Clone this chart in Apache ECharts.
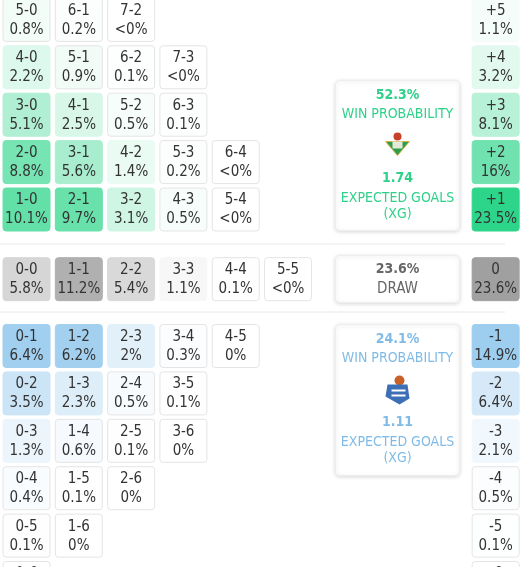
<!DOCTYPE html>
<html>
<head>
<meta charset="utf-8">
<script src="https://cdn.jsdelivr.net/npm/echarts@6/dist/echarts.min.js"></script>
<style>html,body{margin:0;padding:0;background:#fff}#main{width:530px;height:567px}</style>
</head>
<body>
<div id="main"></div>
<script>
// score rows, home wins (margin 5 .. 1)
var homeRows = [
    {margin: 5, labels: ['0.8%', '0.2%', '<0%'], values: [0.8, 0.2, 0]},
    {margin: 4, labels: ['2.2%', '0.9%', '0.1%', '<0%'], values: [2.2, 0.9, 0.1, 0]},
    {margin: 3, labels: ['5.1%', '2.5%', '0.5%', '0.1%'], values: [5.1, 2.5, 0.5, 0.1]},
    {margin: 2, labels: ['8.8%', '5.6%', '1.4%', '0.2%', '<0%'], values: [8.8, 5.6, 1.4, 0.2, 0]},
    {margin: 1, labels: ['10.1%', '9.7%', '3.1%', '0.5%', '<0%'], values: [10.1, 9.7, 3.1, 0.5, 0]}
];
var drawRow = {labels: ['5.8%', '11.2%', '5.4%', '1.1%', '0.1%', '<0%'], values: [5.8, 11.2, 5.4, 1.1, 0.1, 0]};
var awayRows = [
    {margin: 1, labels: ['6.4%', '6.2%', '2%', '0.3%', '0%'], values: [6.4, 6.2, 2, 0.3, 0]},
    {margin: 2, labels: ['3.5%', '2.3%', '0.5%', '0.1%'], values: [3.5, 2.3, 0.5, 0.1]},
    {margin: 3, labels: ['1.3%', '0.6%', '0.1%', '0%'], values: [1.3, 0.6, 0.1, 0]},
    {margin: 4, labels: ['0.4%', '0.1%', '0%'], values: [0.4, 0.1, 0]},
    {margin: 5, labels: ['0.1%', '0%'], values: [0.1, 0]},
    {margin: 6, labels: ['0%'], values: [0]}
];
// goal difference column
var marginNames = ['+5', '+4', '+3', '+2', '+1', '0', '-1', '-2', '-3', '-4', '-5', '-6'];
var marginLabels = ['1.1%', '3.2%', '8.1%', '16%', '23.5%', '23.6%', '14.9%', '6.4%', '2.1%', '0.5%', '0.1%', '0%'];
var marginValues = [1.1, 3.2, 8.1, 16, 23.5, 23.6, 14.9, 6.4, 2.1, 0.5, 0.1, 0];

var GREEN = [45, 213, 138], BLUE = [140, 196, 236], GREY = [153, 153, 153];
function mix(c, t) {
    t = Math.max(0, Math.min(1, t));
    return 'rgb(' + c.map(function (v) { return Math.round(255 + (v - 255) * t); }).join(',') + ')';
}

// rows: y index (inverse axis), x index = column
var cells = [];
homeRows.forEach(function (r) {
    r.values.forEach(function (v, a) {
        cells.push([a, 1 - r.margin, (r.margin + a) + '-' + a, r.labels[a], mix(GREEN, v / 13.5), v]);
    });
});
drawRow.values.forEach(function (v, a) {
    cells.push([a, 1.47, a + '-' + a, drawRow.labels[a], mix(GREY, v / 14.5), v]);
});
awayRows.forEach(function (r) {
    r.values.forEach(function (v, h) {
        cells.push([h, 1.88 + r.margin * 1.0, h + '-' + (r.margin + h), r.labels[h], mix(BLUE, v / 7.8), v]);
    });
});
marginNames.forEach(function (n, i) {
    var y, col;
    if (i < 5) { y = i - 4; col = mix(GREEN, marginValues[i] / 23.5); }
    else if (i === 5) { y = 1.47; col = mix(GREY, 0.93); }
    else { y = 1.88 + (i - 5) * 1.0; col = mix(BLUE, marginValues[i] / 17.5); }
    cells.push([8.97, y, n, marginLabels[i], col, marginValues[i]]);
});

var FONT = '"DejaVu Sans Condensed","Liberation Sans Narrow","Roboto",sans-serif';
var chart = echarts.init(document.getElementById('main'));

function infoBox(top, h, color, pct, xg, crest) {
    var ch = [
        {type: 'rect', shape: {x: 0, y: 0, width: 124, height: h, r: 4},
         style: {fill: '#fff', stroke: '#eee', shadowBlur: 4, shadowColor: 'rgba(0,0,0,0.15)', shadowOffsetY: 1}},
        {type: 'text', x: 62, y: 15, style: {text: pct, fill: color, font: 'bold 14px ' + FONT, align: 'center', verticalAlign: 'middle'}},
        {type: 'text', x: 62, y: 34, style: {text: 'WIN PROBABILITY', fill: color, font: '14px ' + FONT, align: 'center', verticalAlign: 'middle'}},
        {type: 'text', x: 62, y: 98, style: {text: xg, fill: color, font: 'bold 14px ' + FONT, align: 'center', verticalAlign: 'middle'}},
        {type: 'text', x: 62, y: 118, style: {text: 'EXPECTED GOALS', fill: color, font: '14px ' + FONT, align: 'center', verticalAlign: 'middle'}},
        {type: 'text', x: 62, y: 134, style: {text: '(XG)', fill: color, font: '14px ' + FONT, align: 'center', verticalAlign: 'middle'}}
    ];
    ch = ch.concat(crest);
    return {type: 'group', left: 335, top: top, children: ch};
}
var betisCrest = [
    {type: 'circle', shape: {cx: 62, cy: 56, r: 4}, style: {fill: '#c8402a'}},
    {type: 'polygon', shape: {points: [[50, 61], [74, 61], [62, 75]]}, style: {fill: '#2e9e4a', stroke: '#d8b24a', lineWidth: 1}},
    {type: 'rect', shape: {x: 57, y: 61, width: 10, height: 7}, style: {fill: '#e8e8d8'}}
];
var realCrest = [
    {type: 'circle', shape: {cx: 64, cy: 56, r: 5}, style: {fill: '#c8602a'}},
    {type: 'polygon', shape: {points: [[52, 60], [72, 60], [74, 74], [64, 80], [50, 72]]}, style: {fill: '#3d6fb6'}},
    {type: 'rect', shape: {x: 56, y: 65, width: 14, height: 2}, style: {fill: '#fff'}},
    {type: 'rect', shape: {x: 56, y: 70, width: 14, height: 2}, style: {fill: '#fff'}}
];

chart.setOption({
    animation: false,
    grid: {left: 0, top: 0, width: 530, height: 567},
    xAxis: {type: 'value', min: -0.507, max: -0.507 + 530 / 52.3, show: false},
    yAxis: {type: 'value', inverse: true, min: -209.5 / 47.4, max: -209.5 / 47.4 + 567 / 47.4, show: false},
    graphic: [
        {type: 'line', shape: {x1: 0, y1: 244, x2: 505, y2: 244}, style: {stroke: '#e8e8e8', lineWidth: 1}},
        {type: 'line', shape: {x1: 0, y1: 312, x2: 505, y2: 312}, style: {stroke: '#e8e8e8', lineWidth: 1}},
        infoBox(80, 150, '#2ed18a', '52.3%', '1.74', betisCrest),
        infoBox(324, 151, '#7fbbe6', '24.1%', '1.11', realCrest),
        {type: 'group', left: 335, top: 255, children: [
            {type: 'rect', shape: {x: 0, y: 0, width: 124, height: 47, r: 4},
             style: {fill: '#fff', stroke: '#eee', shadowBlur: 4, shadowColor: 'rgba(0,0,0,0.15)', shadowOffsetY: 1}},
            {type: 'text', x: 62, y: 14, style: {text: '23.6%', fill: '#666', font: 'bold 14px ' + FONT, align: 'center', verticalAlign: 'middle'}},
            {type: 'text', x: 62, y: 34, style: {text: 'DRAW', fill: '#666', font: '15px ' + FONT, align: 'center', verticalAlign: 'middle'}}
        ]}
    ],
    series: [{
        type: 'custom',
        data: cells,
        renderItem: function (params, api) {
            var p = api.coord([api.value(0), api.value(1)]);
            var d = cells[params.dataIndex];
            var w = 47, h = 43;
            return {type: 'group', children: [
                {type: 'rect', shape: {x: p[0] - w / 2, y: p[1] - h / 2, width: w, height: h, r: 3},
                 style: {fill: d[4], stroke: d[5] > 1 ? d[4] : '#e4e4e4', lineWidth: 1}},
                {type: 'text', x: p[0], y: p[1] - 9, style: {text: d[2], fill: '#333', font: '15px ' + FONT, align: 'center', verticalAlign: 'middle'}},
                {type: 'text', x: p[0], y: p[1] + 10, style: {text: d[3], fill: '#333', font: '15px ' + FONT, align: 'center', verticalAlign: 'middle'}}
            ]};
        }
    }]
});
</script>
</body>
</html>
